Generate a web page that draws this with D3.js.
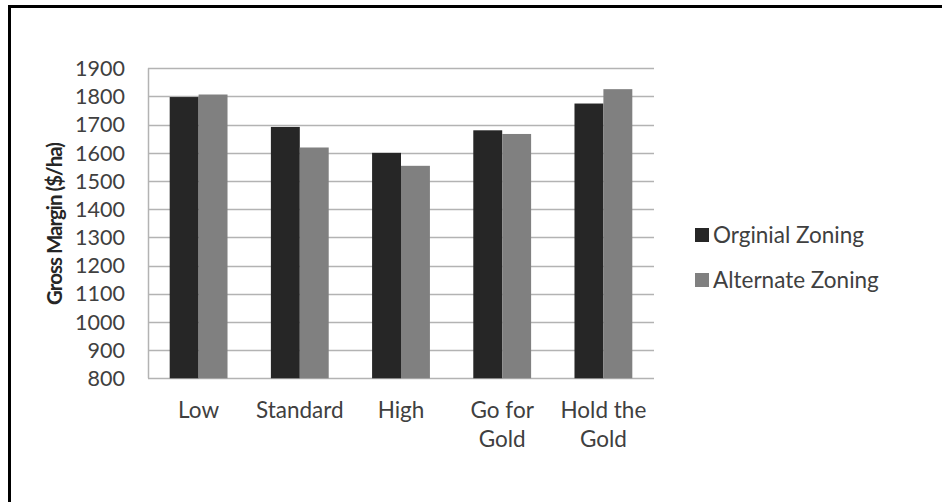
<!DOCTYPE html>
<html><head><meta charset="utf-8">
<script src="https://cdn.jsdelivr.net/npm/d3@7"></script>
<style>html,body{margin:0;padding:0;background:#fff;}svg{display:block;}</style>
</head><body>
<svg id="chart" width="942" height="502"></svg>
<script>
const categories = [["Low"], ["Standard"], ["High"], ["Go for", "Gold"], ["Hold the", "Gold"]];
const seriesNames = ["Orginial Zoning", "Alternate Zoning"];
const original = [1798, 1692, 1600, 1680, 1775];
const alternate = [1807, 1619, 1554, 1667, 1826];
const yTicks = [800, 900, 1000, 1100, 1200, 1300, 1400, 1500, 1600, 1700, 1800, 1900];
const colors = ["#262626", "#808080"];

const svg = d3.select("#chart");
const font = "Lato, 'Open Sans', sans-serif";
const plotLeft = 148, plotRight = 654, plotTop = 68.3, plotBottom = 378.3;

// outer frame (left and top edges visible)
svg.append("line").attr("x1", 9.5).attr("x2", 9.5).attr("y1", 5).attr("y2", 502).attr("stroke", "#000").attr("stroke-width", 3);
svg.append("line").attr("x1", 8).attr("x2", 942).attr("y1", 6.5).attr("y2", 6.5).attr("stroke", "#000").attr("stroke-width", 3);

const x = d3.scaleBand().domain(d3.range(categories.length)).range([plotLeft, plotRight]).paddingInner(0).paddingOuter(0);
const y = d3.scaleLinear().domain([800, 1900]).range([plotBottom, plotTop]);

// gridlines
svg.append("g").selectAll("line").data(yTicks).join("line")
  .attr("x1", plotLeft).attr("x2", plotRight)
  .attr("y1", d => Math.round(y(d)) + 0.5).attr("y2", d => Math.round(y(d)) + 0.5)
  .attr("stroke", "#b3b3b3").attr("stroke-width", 1.5);

// left axis line
svg.append("line").attr("x1", plotLeft + 0.5).attr("x2", plotLeft + 0.5).attr("y1", y(1900)).attr("y2", y(800))
  .attr("stroke", "#b3b3b3").attr("stroke-width", 1.5);

// bars
const bw = x.bandwidth() / 3.5;
const data = [original, alternate];
data.forEach((vals, s) => {
  svg.append("g").selectAll("rect").data(vals).join("rect")
    .attr("x", (d, i) => x(i) + bw * 0.75 + s * bw)
    .attr("width", bw)
    .attr("y", d => y(d))
    .attr("height", d => y(800) - y(d))
    .attr("fill", colors[s]);
});

// y tick labels
svg.append("g").selectAll("text").data(yTicks).join("text")
  .attr("x", 125).attr("y", d => y(d)).attr("dy", "0.36em")
  .attr("text-anchor", "end").attr("font-family", font).attr("font-size", 21.5).attr("fill", "#404040")
  .text(d => d);

// category labels
const cat = svg.append("g").selectAll("text").data(categories).join("text")
  .attr("text-anchor", "middle").attr("font-family", font).attr("font-size", 22.5).attr("fill", "#404040");
cat.each(function(lines, i) {
  d3.select(this).selectAll("tspan").data(lines).join("tspan")
    .attr("x", x(i) + x.bandwidth() / 2)
    .attr("y", (d, j) => 418 + j * 29)
    .text(d => d);
});

// y axis title
svg.append("text").attr("transform", "translate(55,224) rotate(-90)")
  .attr("dy", "0.35em").attr("text-anchor", "middle").attr("font-family", font)
  .attr("font-weight", "bold").attr("font-size", 20.5).attr("letter-spacing", -1)
  .attr("fill", "#262626")
  .text("Gross Margin ($/ha)");

// legend
const lg = svg.append("g").selectAll("g").data(seriesNames).join("g")
  .attr("transform", (d, i) => `translate(695,${235 + i * 45})`);
lg.append("rect").attr("x", 0).attr("y", -7).attr("width", 14).attr("height", 14).attr("fill", (d, i) => colors[i]);
lg.append("text").attr("x", 18).attr("dy", "0.35em").attr("font-family", font).attr("font-size", 22.5)
  .attr("fill", "#404040").text(d => d);
</script>
</body></html>
